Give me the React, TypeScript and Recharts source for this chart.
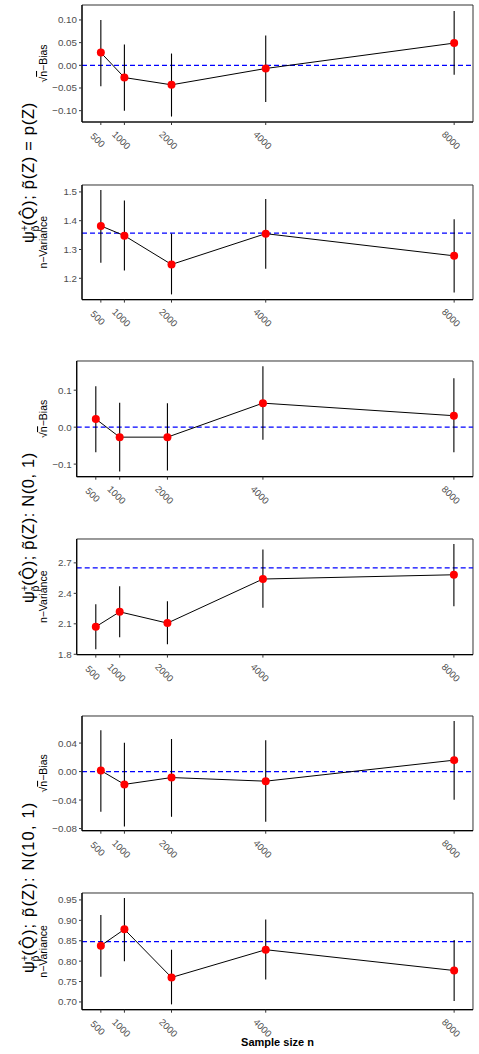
import { ComposedChart, Line, XAxis, YAxis, ReferenceLine, ReferenceArea, ErrorBar } from "recharts";

const sizes = [500, 1000, 2000, 4000, 8000];

// p~(Z) = p(Z)
const biasPZ = [0.028, -0.027, -0.043, -0.007, 0.049];
const biasPZLo = [-0.046, -0.1, -0.113, -0.081, -0.021];
const biasPZHi = [0.1, 0.046, 0.026, 0.066, 0.12];
const varPZ = [1.382, 1.348, 1.248, 1.355, 1.278];
const varPZLo = [1.254, 1.227, 1.144, 1.233, 1.151];
const varPZHi = [1.507, 1.47, 1.355, 1.475, 1.405];
const varPZTruth = 1.357;

// p~(Z): N(0, 1)
const biasN0 = [0.022, -0.027, -0.027, 0.065, 0.031];
const biasN0Lo = [-0.068, -0.12, -0.117, -0.034, -0.068];
const biasN0Hi = [0.111, 0.066, 0.065, 0.165, 0.132];
const varN0 = [2.071, 2.218, 2.107, 2.541, 2.583];
const varN0Lo = [1.849, 1.967, 1.898, 2.257, 2.273];
const varN0Hi = [2.293, 2.469, 2.322, 2.831, 2.886];
const varN0Truth = 2.651;

// p~(Z): N(10, 1)
const biasN10 = [0.0014, -0.018, -0.0084, -0.0135, 0.016];
const biasN10Lo = [-0.0565, -0.077, -0.0635, -0.0705, -0.0396];
const biasN10Hi = [0.058, 0.0406, 0.0457, 0.0439, 0.071];
const varN10 = [0.838, 0.878, 0.76, 0.828, 0.777];
const varN10Lo = [0.762, 0.8, 0.694, 0.755, 0.702];
const varN10Hi = [0.913, 0.955, 0.828, 0.902, 0.852];
const varN10Truth = 0.848;

const biasTicksPZ = [-0.1, -0.05, 0, 0.05, 0.1];
const varTicksPZ = [1.2, 1.3, 1.4, 1.5];
const biasTicksN0 = [-0.1, 0, 0.1];
const varTicksN0 = [1.8, 2.1, 2.4, 2.7];
const biasTicksN10 = [-0.08, -0.04, 0, 0.04];
const varTicksN10 = [0.7, 0.75, 0.8, 0.85, 0.9, 0.95];

const FONT = "'Liberation Sans', Arial, Helvetica, sans-serif";
const W = 479;
const XDOM: [number, number] = [100, 8400];

const XTick = ({ x, y, payload }: any) => (
  <text
    transform={`translate(${x - 3},${y + 13}) rotate(45)`}
    textAnchor="middle"
    dominantBaseline="central"
    fontSize={9.5}
    fontFamily={FONT}
    fill="#4D4D4D"
  >
    {payload.value}
  </text>
);

const YTitle = ({ viewBox, kind }: any) => {
  const cy = viewBox.y + viewBox.height / 2;
  return (
    <text transform={`translate(47,${cy}) rotate(-90)`} textAnchor="middle" fontSize={10.5} fontFamily={FONT} fill="#000">
      {kind === "bias" ? (
        <>
          <tspan>√</tspan>
          <tspan style={{ textDecoration: "overline" }}>n</tspan>
          <tspan>−Bias</tspan>
        </>
      ) : (
        "n−Variance"
      )}
    </text>
  );
};

type PanelProps = {
  top: number;
  bottom: number;
  left: number;
  est: number[];
  lo: number[];
  hi: number[];
  truth: number;
  ticks: number[];
  digits: number;
  domain: [number, number];
  kind: "bias" | "var";
};

function Panel({ top, bottom, left, est, lo, hi, truth, ticks, digits, domain, kind }: PanelProps) {
  const data = sizes.map((n, i) => ({ n, est: est[i], err: [est[i] - lo[i], hi[i] - est[i]] }));
  const xh = 40;
  const h = bottom - top + 5 + xh;
  return (
    <div style={{ position: "absolute", left: 0, top: top - 5 }}>
      <ComposedChart width={W} height={h} data={data} margin={{ top: 5, right: 6, bottom: 0, left: 0 }}>
        <XAxis
          type="number"
          dataKey="n"
          domain={XDOM}
          ticks={sizes}
          interval={0}
          height={xh}
          tick={<XTick />}
          tickSize={3}
          tickLine={{ stroke: "#333" }}
          axisLine={{ stroke: "#000", strokeWidth: 1.2 }}
          allowDataOverflow
        />
        <YAxis
          type="number"
          domain={domain}
          ticks={ticks}
          interval={0}
          width={left}
          tickSize={3}
          tickMargin={2}
          tickLine={{ stroke: "#333" }}
          axisLine={{ stroke: "#000", strokeWidth: 1.2 }}
          tick={{ fill: "#4D4D4D", fontSize: 9.8, fontFamily: FONT }}
          tickFormatter={(v: number) => v.toFixed(digits).replace("-", "−")}
          label={<YTitle kind={kind} />}
          allowDataOverflow
        />
        <ReferenceArea x1={XDOM[0]} x2={XDOM[1]} y1={domain[0]} y2={domain[1]} fill="none" stroke="#333" strokeWidth={1} />
        <ReferenceLine y={truth} stroke="#0000FF" strokeWidth={1.2} strokeDasharray="5 3" />
        <Line
          dataKey="est"
          stroke="#000"
          strokeWidth={1}
          dot={{ r: 4, fill: "#FF0000", stroke: "none" }}
          activeDot={false}
          isAnimationActive={false}
        >
          <ErrorBar dataKey="err" width={0} stroke="#000" strokeWidth={1.1} direction="y" />
        </Line>
      </ComposedChart>
    </div>
  );
}

const GroupLabel = ({ y, tail, len }: { y: number; tail: string; len: number }) => (
  <text transform={`translate(34,${y}) rotate(-90)`} fontSize={16.5} fontFamily={FONT} fill="#000">
    <tspan>ψ</tspan>
    <tspan fontSize={10.5} dy={-6.5}>+</tspan>
    <tspan fontSize={10.5} dx={-6.5} dy={11}>p̃</tspan>
    <tspan dy={-4.5} textLength={len} lengthAdjust="spacing">{"(Q̂);  p̃(Z)" + tail}</tspan>
  </text>
);

export default function App() {
  return (
    <div style={{ position: "relative", width: W, height: 1054, background: "#fff" }}>
      <style>{"body{margin:0;background:#fff}"}</style>
      <Panel top={5} bottom={122} left={82} est={biasPZ} lo={biasPZLo} hi={biasPZHi} truth={0} ticks={biasTicksPZ} digits={2} domain={[-0.125, 0.133]} kind="bias" />
      <Panel top={184.7} bottom={299.3} left={82} est={varPZ} lo={varPZLo} hi={varPZHi} truth={varPZTruth} ticks={varTicksPZ} digits={1} domain={[1.126, 1.524]} kind="var" />
      <Panel top={361} bottom={476.7} left={76.7} est={biasN0} lo={biasN0Lo} hi={biasN0Hi} truth={0} ticks={biasTicksN0} digits={1} domain={[-0.134, 0.179]} kind="bias" />
      <Panel top={538.7} bottom={654.3} left={76.7} est={varN0} lo={varN0Lo} hi={varN0Hi} truth={varN0Truth} ticks={varTicksN0} digits={1} domain={[1.797, 2.935]} kind="var" />
      <Panel top={716.3} bottom={831} left={82} est={biasN10} lo={biasN10Lo} hi={biasN10Hi} truth={0} ticks={biasTicksN10} digits={2} domain={[-0.083, 0.078]} kind="bias" />
      <Panel top={893} bottom={1009.7} left={82} est={varN10} lo={varN10Lo} hi={varN10Hi} truth={varN10Truth} ticks={varTicksN10} digits={2} domain={[0.681, 0.967]} kind="var" />
      <svg width={W} height={1054} style={{ position: "absolute", left: 0, top: 0, pointerEvents: "none" }}>
        <GroupLabel y={243} tail=" = p(Z)" len={123} />
        <GroupLabel y={603} tail=":  N(0, 1)" len={133} />
        <GroupLabel y={973} tail=":  N(10, 1)" len={153} />
        <text x={277.5} y={1046} textAnchor="middle" fontSize={11} fontWeight="bold" fontFamily={FONT} fill="#000">
          Sample size n
        </text>
      </svg>
    </div>
  );
}
